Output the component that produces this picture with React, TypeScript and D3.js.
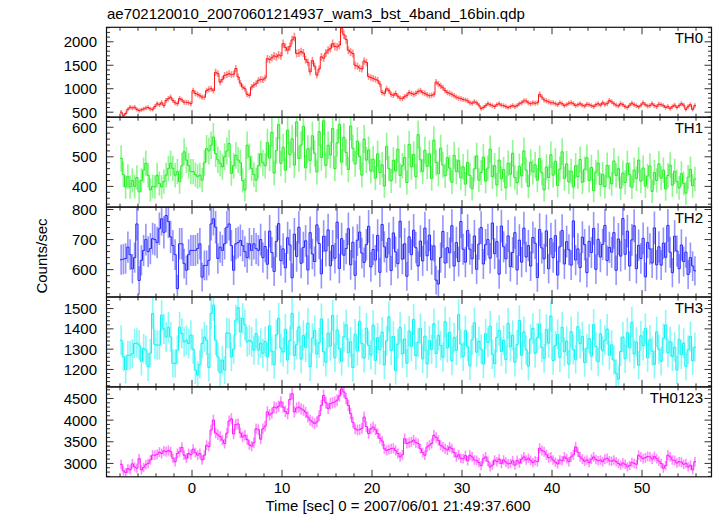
import React from 'react';
import * as d3 from 'd3';

const TITLE = 'ae702120010_20070601214937_wam3_bst_4band_16bin.qdp';
const X_LABEL = 'Time [sec] 0 = 2007/06/01 21:49:37.600';
const Y_LABEL = 'Counts/sec';
const T_START = -8;
const BIN_WIDTH = 0.25;
const X_DOMAIN: [number, number] = [-9.5, 57.72];
const X_MAJOR_TICKS = [0, 10, 20, 30, 40, 50];
const X_MINOR_STEP = 2;

const panelNames = ['TH0', 'TH1', 'TH2', 'TH3', 'TH0123'];
const panelColors = ['#ff1a1a', '#22ee22', '#2a2aff', '#11f2f2', '#ff1aff'];
const yDomains: [number, number][] = [[393, 2309], [330, 634], [509, 808], [1114, 1557], [2691, 4767]];
const yMajorStep = [500, 100, 100, 100, 500];
const yMinorStep = [100, 20, 20, 20, 100];

const th0 = [
  500, 430, 470, 560, 605, 590, 605, 560,
  535, 550, 570, 590, 600, 570, 560, 620,
  680, 660, 700, 640, 750, 790, 820, 750,
  700, 680, 790, 760, 712, 712, 700, 680,
  960, 900, 880, 850, 820, 820, 960, 990,
  1000, 960, 1350, 1320, 1140, 1200, 1285, 1300,
  1320, 1300, 1310, 1430, 1250, 1120, 1035, 1000,
  880, 857, 1035, 1080, 1107, 1178, 1200, 1190,
  1230, 1640, 1620, 1660, 1700, 1680, 1720, 1700,
  1960, 1880, 1820, 1900, 2040, 2100, 1750, 1760,
  1790, 1760, 1620, 1560, 1360, 1600, 1480, 1290,
  1420, 1680, 1650, 1760, 1820, 1860, 1960, 1900,
  1890, 1930, 2290, 2150, 2050, 1820, 1780, 1750,
  1500, 1480, 1440, 1420, 1590, 1560, 1260, 1240,
  1220, 1200, 1180, 1100, 920, 900, 1000, 960,
  880, 860, 900, 840, 800, 790, 830, 860,
  920, 900, 880, 900, 940, 960, 920, 900,
  870, 850, 860, 880, 1140, 1100, 1060, 1020,
  960, 920, 900, 880, 850, 820, 800, 790,
  770, 760, 740, 700, 690, 720, 700, 650,
  580, 600, 640, 680, 660, 640, 620, 660,
  680, 650, 640, 620, 600, 620, 640, 620,
  640, 680, 700, 740, 740, 700, 680, 700,
  690, 700, 880, 820, 760, 740, 720, 700,
  700, 680, 660, 700, 680, 640, 660, 690,
  700, 680, 640, 660, 680, 650, 630, 670,
  660, 640, 620, 660, 680, 650, 700, 670,
  680, 750, 720, 680, 650, 630, 680, 660,
  620, 600, 650, 690, 660, 640, 610, 650,
  700, 660, 630, 640, 680, 640, 620, 670,
  660, 640, 600, 620, 580, 620, 650, 600,
  640, 680, 650, 560, 620, 660, 560, 640,
];

const th1 = [
  495, 440, 398, 433, 398, 420, 400, 430,
  382, 420, 455, 478, 438, 388, 400, 398,
  438, 410, 398, 416, 438, 460, 478, 461,
  438, 450, 416, 470, 517, 489, 470, 450,
  450, 440, 433, 438, 421, 480, 528, 520,
  539, 567, 511, 490, 478, 466, 500, 520,
  545, 444, 470, 505, 489, 480, 420, 388,
  539, 500, 461, 440, 421, 470, 510, 480,
  470, 548, 496, 583, 445, 521, 609, 478,
  532, 455, 590, 507, 561, 472, 618, 494,
  540, 603, 463, 527, 488, 571, 512, 449,
  585, 498, 622, 471, 539, 506, 596, 460,
  547, 610, 482, 566, 515, 457, 604, 529,
  476, 553, 501, 438, 560, 489, 523, 452,
  492, 428, 510, 447, 473, 401, 535, 460,
  419, 488, 452, 526, 437, 470, 498, 413,
  542, 466, 508, 433, 575, 490, 451, 522,
  468, 510, 427, 556, 481, 443, 529, 472,
  436, 497, 462, 414, 505, 450, 487, 429,
  466, 408, 481, 437, 392, 459, 503, 421,
  447, 499, 418, 462, 526, 433, 470, 405,
  489, 426, 457, 395, 478, 441, 512, 430,
  412, 468, 436, 520, 455, 400, 482, 449,
  473, 421, 494, 446, 388, 465, 430, 507,
  438, 485, 403, 459, 517, 427, 476, 415,
  452, 398, 470, 433, 491, 414, 458, 497,
  420, 464, 386, 448, 479, 406, 441, 399,
  471, 432, 409, 486, 437, 460, 394, 445,
  413, 478, 440, 397, 455, 426, 489, 418,
  462, 401, 435, 469, 383, 447, 420, 476,
  428, 455, 391, 437, 472, 404, 451, 416,
  395, 443, 410, 377, 431, 458, 402, 425,
];

const th2 = [
  633, 635, 637, 675, 650, 603, 640, 752,
  564, 631, 664, 700, 660, 670, 703, 700,
  690, 736, 769, 724, 780, 760, 709, 680,
  650, 537, 686, 686, 620, 598, 650, 664,
  664, 664, 670, 686, 575, 614, 614, 631,
  752, 769, 741, 637, 675, 664, 686, 741,
  752, 680, 598, 686, 690, 697, 680, 660,
  640, 686, 664, 686, 670, 664, 700, 640,
  677, 618, 728, 657, 594, 694, 753, 630,
  669, 606, 706, 682, 573, 718, 644, 741,
  621, 674, 696, 599, 723, 652, 627, 749,
  687, 586, 711, 662, 732, 613, 680, 638,
  758, 604, 703, 648, 670, 736, 616, 691,
  581, 698, 725, 655, 624, 683, 744, 609,
  667, 632, 714, 591, 750, 676, 641, 704,
  597, 722, 659, 620, 761, 635, 686, 578,
  709, 650, 731, 673, 612, 695, 629, 738,
  646, 715, 633, 679, 565, 552, 640, 727,
  622, 673, 656, 746, 612, 690, 627, 760,
  668, 625, 730, 668, 636, 712, 601, 685,
  740, 619, 683, 700, 638, 755, 653, 693,
  585, 745, 676, 636, 712, 610, 657, 723,
  599, 698, 625, 738, 642, 680, 612, 707,
  688, 574, 733, 672, 636, 729, 603, 703,
  640, 713, 582, 676, 730, 619, 693, 666,
  615, 762, 632, 669, 607, 708, 683, 590,
  694, 657, 737, 601, 701, 642, 684, 747,
  630, 674, 658, 723, 598, 702, 645, 770,
  651, 728, 612, 699, 746, 603, 681, 637,
  704, 576, 690, 669, 622, 739, 616, 676,
  615, 688, 641, 747, 658, 590, 711, 662,
  603, 682, 627, 658, 584, 640, 612, 596,
];

const th3 = [
  1344, 1262, 1200, 1270, 1270, 1279, 1328, 1330,
  1320, 1240, 1303, 1295, 1213, 1280, 1475, 1324,
  1320, 1320, 1467, 1400, 1360, 1408, 1360, 1230,
  1230, 1295, 1408, 1377, 1336, 1344, 1328, 1369,
  1300, 1197, 1172, 1225, 1328, 1360, 1344, 1210,
  1476, 1517, 1344, 1262, 1185, 1246, 1197, 1380,
  1377, 1262, 1300, 1443, 1505, 1385, 1451, 1420,
  1336, 1344, 1336, 1295, 1377, 1295, 1330, 1280,
  1338, 1262, 1415, 1290, 1224, 1371, 1452, 1305,
  1286, 1398, 1247, 1343, 1476, 1269, 1322, 1410,
  1251, 1367, 1309, 1428, 1213, 1354, 1392, 1276,
  1331, 1449, 1287, 1236, 1378, 1315, 1466, 1258,
  1395, 1302, 1240, 1361, 1420, 1283, 1336, 1209,
  1374, 1291, 1437, 1328, 1256, 1403, 1319, 1271,
  1418, 1245, 1356, 1297, 1384, 1222, 1341, 1459,
  1293, 1362, 1194, 1325, 1407, 1277, 1350, 1231,
  1389, 1314, 1446, 1268, 1333, 1401, 1252, 1364,
  1227, 1342, 1299, 1425, 1278, 1369, 1318, 1261,
  1435, 1306, 1383, 1242, 1357, 1294, 1470, 1325,
  1263, 1391, 1312, 1218, 1346, 1430, 1285, 1339,
  1300, 1227, 1376, 1333, 1413, 1274, 1229, 1358,
  1392, 1289, 1344, 1249, 1427, 1311, 1368, 1236,
  1323, 1441, 1270, 1385, 1297, 1216, 1349, 1402,
  1280, 1357, 1423, 1308, 1255, 1396, 1330, 1463,
  1244, 1317, 1372, 1259, 1408, 1288, 1340, 1226,
  1386, 1298, 1250, 1411, 1327, 1363, 1234, 1304,
  1352, 1266, 1421, 1313, 1238, 1375, 1292, 1344,
  1399, 1270, 1321, 1246, 1181, 1152, 1289, 1360,
  1253, 1381, 1307, 1432, 1276, 1335, 1221, 1366,
  1317, 1402, 1258, 1346, 1290, 1225, 1385, 1299,
  1240, 1353, 1419, 1282, 1337, 1264, 1310, 1198,
  1348, 1273, 1330, 1215, 1297, 1362, 1243, 1310,
];

const th0123 = [
  2980, 2830, 2790, 2880, 2850, 2990, 2920, 2890,
  3110, 2850, 2910, 2970, 3000, 3080, 3190, 3190,
  3210, 3260, 3230, 3290, 3270, 3300, 3270, 3120,
  3040, 3230, 3270, 3370, 3190, 3120, 3230, 3200,
  3330, 3250, 3190, 3230, 3080, 3190, 3420, 3390,
  3770, 4000, 3700, 3660, 3620, 3540, 3460, 3700,
  3980, 4030, 3680, 3900, 3910, 3700, 3610, 3650,
  3550, 3430, 3400, 3480, 3800, 3780, 3560, 3800,
  3860, 4190, 4120, 4160, 4300, 4280, 4320, 4420,
  4300, 4200, 4150, 4480, 4610, 4190, 4280, 4300,
  4260, 4230, 4180, 4070, 4000, 3960, 3920, 3960,
  4100, 4340, 4570, 4400, 4270, 4380, 4400, 4420,
  4460, 4560, 4720, 4650, 4500, 4340, 4150, 3950,
  3800, 3770, 3780, 3810, 4070, 3850, 3690, 3800,
  3840, 3780, 3690, 3580, 3520, 3340, 3300, 3320,
  3340, 3350, 3300, 3230, 3150, 3200, 3570, 3460,
  3480, 3500, 3540, 3480, 3460, 3340, 3250, 3190,
  3380, 3420, 3460, 3650, 3600, 3530, 3420, 3380,
  3340, 3310, 3380, 3340, 3250, 3150, 3200, 3120,
  3110, 3180, 3060, 3190, 3150, 3080, 3070, 3020,
  2950, 3110, 3150, 3050, 2920, 2960, 3080, 3040,
  3100, 3000, 3080, 3030, 2990, 3000, 3060, 2960,
  3070, 3010, 3100, 3150, 3080, 3120, 3070, 3020,
  3060, 3040, 3350, 3300, 3270, 3200, 3130, 3150,
  3080, 3030, 2990, 3080, 3060, 3150, 3110, 3040,
  3150, 3200, 3380, 3260, 3150, 3100, 3050, 3080,
  3020, 3100, 3150, 3090, 3060, 3080, 3040, 3100,
  3120, 3060, 3050, 3080, 3040, 3000, 2960, 3010,
  2980, 2920, 2950, 3020, 3000, 2980, 3190, 3150,
  3110, 3130, 3160, 3150, 3100, 3160, 3110, 3050,
  3000, 2890, 2950, 3190, 3150, 3080, 3070, 3010,
  3040, 3030, 2980, 3000, 2920, 2960, 2850, 3040,
];

const seriesList = [th0, th1, th2, th3, th0123];

const W = 717;
const H = 516;
const LEFT = 106.5;
const RIGHT = 711.5;
const TOP = 27.3;
const PANEL_H = 89.9;
const FONT = 'Liberation Sans, Arial, Helvetica, sans-serif';
const FS = 15;

function ticksFor(d0: number, d1: number, step: number) {
  const out: number[] = [];
  const start = Math.ceil(d0 / step - 1e-9) * step;
  for (let v = start; v <= d1 + 1e-9; v += step) out.push(Math.round(v * 1000) / 1000);
  return out;
}

function Panel({ p, x }: { p: number; x: d3.ScaleLinear<number, number> }) {
  const y0 = TOP + PANEL_H * p;
  const y1 = y0 + PANEL_H;
  const y = d3.scaleLinear().domain(yDomains[p]).range([y1, y0]);
  const data = seriesList[p];
  const color = panelColors[p];

  const pts: [number, number][] = data.map((v, i) => [T_START + i * BIN_WIDTH, v]);
  pts.push([T_START + data.length * BIN_WIDTH, data[data.length - 1]]);
  const stepLine = d3
    .line<[number, number]>()
    .x((d) => x(d[0]))
    .y((d) => y(d[1]))
    .curve(d3.curveStepAfter)(pts) as string;

  const errPath = data
    .map((v, i) => {
      const t = T_START + (i + 0.5) * BIN_WIDTH;
      const err = Math.sqrt(v / BIN_WIDTH);
      return `M${x(t).toFixed(2)},${y(v - err).toFixed(2)}V${y(v + err).toFixed(2)}`;
    })
    .join('');

  const [d0, d1] = yDomains[p];
  const yMaj = ticksFor(d0, d1, yMajorStep[p]);
  const yMin = ticksFor(d0, d1, yMinorStep[p]).filter((v) => !yMaj.some((m) => Math.abs(m - v) < 1e-6));
  const xMin = ticksFor(X_DOMAIN[0], X_DOMAIN[1], X_MINOR_STEP).filter((v) => v % 10 !== 0);
  const xMaj = X_MAJOR_TICKS;
  const MAJ = 7;
  const MIN = 3.5;
  const clipId = `clip${p}`;

  let tickPath = '';
  yMaj.forEach((v) => {
    const yy = y(v);
    tickPath += `M${LEFT},${yy}h${MAJ}M${RIGHT},${yy}h${-MAJ}`;
  });
  yMin.forEach((v) => {
    const yy = y(v);
    tickPath += `M${LEFT},${yy}h${MIN}M${RIGHT},${yy}h${-MIN}`;
  });
  xMaj.forEach((v) => {
    const xx = x(v);
    tickPath += `M${xx},${y1}v${-MAJ}M${xx},${y0}v${MAJ}`;
  });
  xMin.forEach((v) => {
    const xx = x(v);
    tickPath += `M${xx},${y1}v${-MIN}M${xx},${y0}v${MIN}`;
  });

  return (
    <g>
      <defs>
        <clipPath id={clipId}>
          <rect x={LEFT} y={y0} width={RIGHT - LEFT} height={PANEL_H} />
        </clipPath>
      </defs>
      <g clipPath={`url(#${clipId})`}>
        <path d={errPath} stroke={color} strokeOpacity={0.5} strokeWidth={1.6} fill="none" />
        <path d={stepLine} stroke={color} strokeWidth={1} fill="none" />
      </g>
      <path d={tickPath} stroke="#333" strokeWidth={1} fill="none" />
      {yMaj.map((v) => (
        <text key={v} x={97} y={y(v) + 5.4} textAnchor="end" fontSize={FS} fill="#000">
          {v}
        </text>
      ))}
      <text x={703} y={y0 + 16} textAnchor="end" fontSize={FS} fill="#000">
        {panelNames[p]}
      </text>
    </g>
  );
}

export default function App() {
  const x = d3.scaleLinear().domain(X_DOMAIN).range([LEFT, RIGHT]);
  const bottom = TOP + PANEL_H * panelNames.length;
  return (
    <svg
      width={W}
      height={H}
      style={{ position: 'absolute', left: 0, top: 0, background: '#fff' }}
      fontFamily={FONT}
    >
      <rect x={0} y={0} width={W} height={H} fill="#fff" />
      <text x={107} y={19} fontSize={FS} fill="#000">
        {TITLE}
      </text>
      {panelNames.map((_, p) => (
        <Panel key={p} p={p} x={x} />
      ))}
      {panelNames.map((_, p) => (
        <rect
          key={'f' + p}
          x={LEFT}
          y={TOP + PANEL_H * p}
          width={RIGHT - LEFT}
          height={PANEL_H}
          fill="none"
          stroke="#111"
          strokeWidth={1.2}
        />
      ))}
      {X_MAJOR_TICKS.map((v) => (
        <text key={v} x={x(v)} y={493} textAnchor="middle" fontSize={FS} fill="#000">
          {v}
        </text>
      ))}
      <text x={398} y={511} textAnchor="middle" fontSize={FS} fill="#000">
        {X_LABEL}
      </text>
      <text transform={`translate(47,${(TOP + bottom) / 2 + 4}) rotate(-90)`} textAnchor="middle" fontSize={FS} fill="#000">
        {Y_LABEL}
      </text>
    </svg>
  );
}
